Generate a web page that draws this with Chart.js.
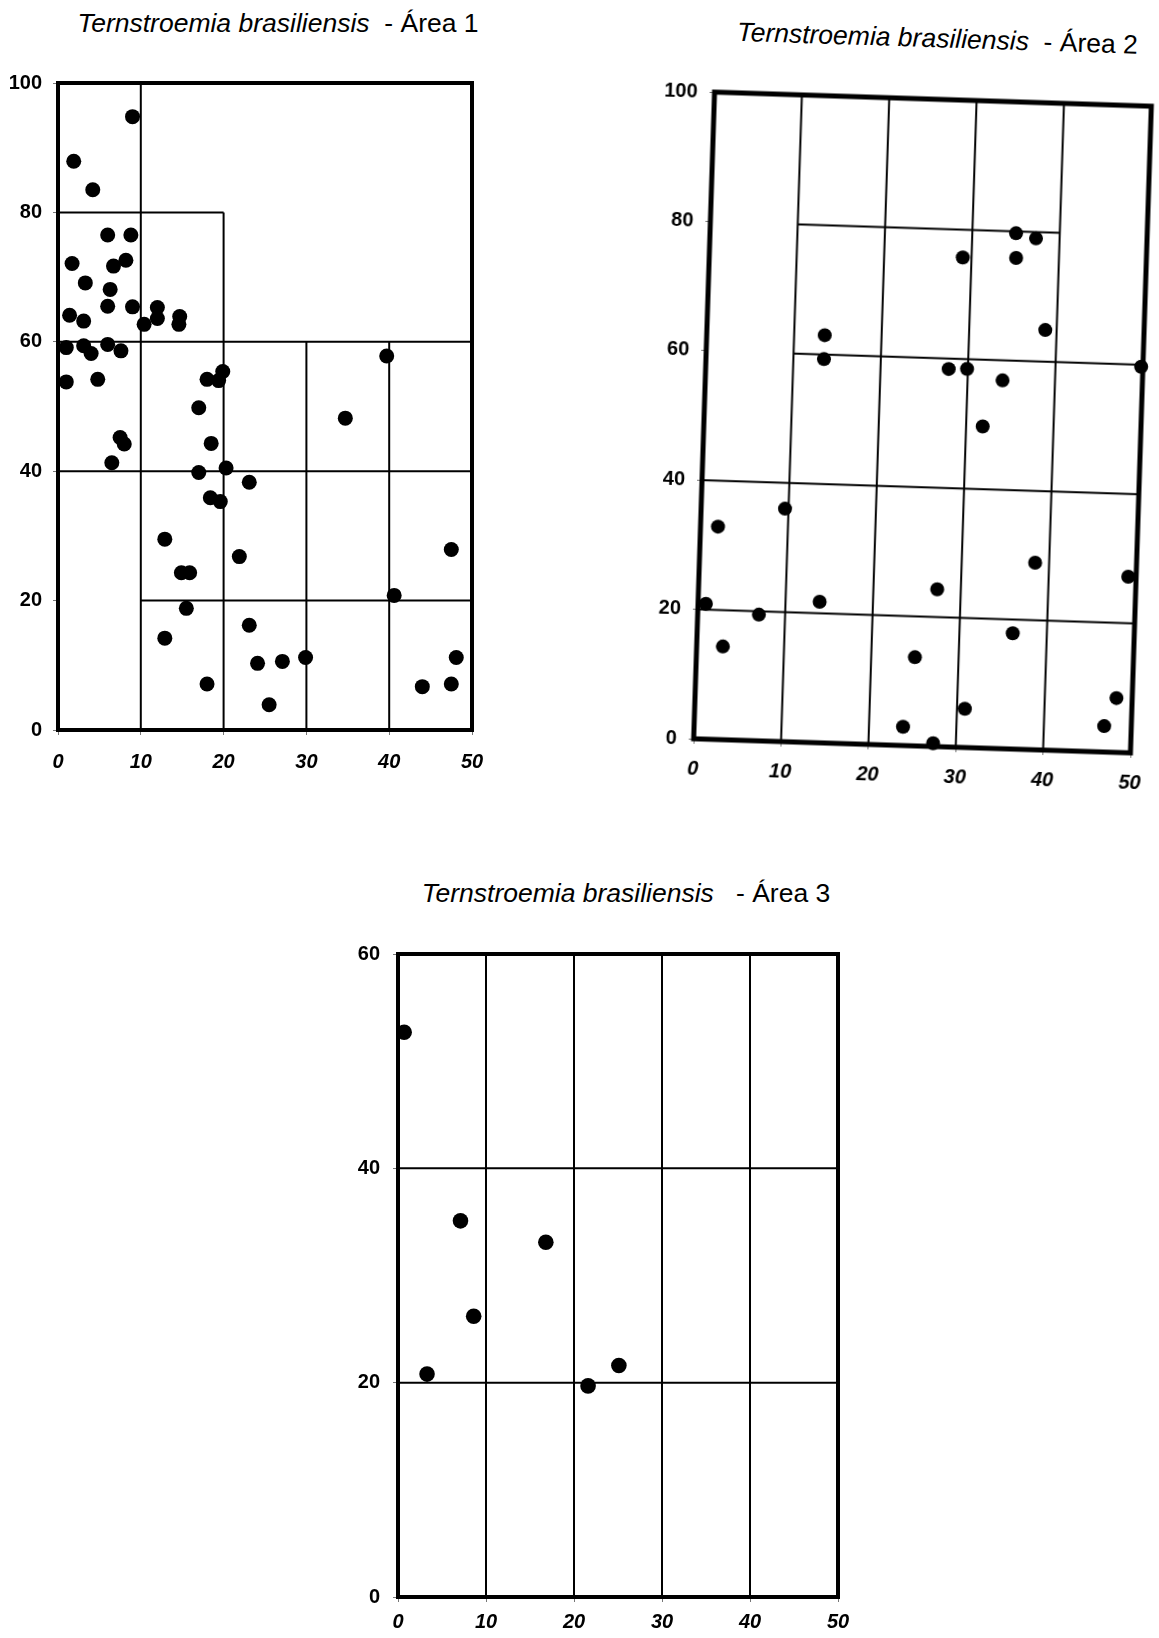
<!DOCTYPE html>
<html>
<head>
<meta charset="utf-8">
<script src="https://cdn.jsdelivr.net/npm/chart.js@4.4.0/dist/chart.umd.min.js"></script>
<style>
  body { margin: 0; background: #fff; }
  #page { position: relative; width: 1159px; height: 1638px; overflow: hidden; background: #fff;
          font-family: "Liberation Sans", Arial, sans-serif; color: #000; }
  .title { position: absolute; width: 500px; text-align: center; font-size: 26.5px; line-height: 30px; white-space: pre; }
  canvas { position: absolute; }
  #box2 { position: absolute; left: 640px; top: 0; width: 540px; height: 800px;
          transform-origin: 282.5px 422.5px; transform: rotate(1.85deg); }
</style>
</head>
<body>
<div id="page">
  <div class="title" style="left:28px;top:8px"><i>Ternstroemia brasiliensis</i>  - Área 1</div>
  <canvas id="c1" width="502" height="722" style="left:0;top:55px"></canvas>

  <div id="box2">
    <div class="title" style="left:35px;top:23px"><i>Ternstroemia brasiliensis</i>  - Área 2</div>
    <canvas id="c2" width="529" height="731" style="left:0;top:60px"></canvas>
  </div>

  <div class="title" style="left:376px;top:878px"><i>Ternstroemia brasiliensis</i>   - Área 3</div>
  <canvas id="c3" width="530" height="717" style="left:330px;top:920px"></canvas>
</div>

<script>
// tick labels
var xTicks = [0, 10, 20, 30, 40, 50];
var yTicks12 = [0, 20, 40, 60, 80, 100];
var yTicks3 = [0, 20, 40, 60];

// Área 1 - tree positions (m)
var area1X = [9.0, 1.9, 4.2, 6.0, 8.8, 1.7, 6.7, 8.2, 3.3, 6.3, 6.0, 9.0, 1.4, 3.1, 10.4, 12.0, 12.0, 14.7, 14.6,
              1.0, 3.1, 4.0, 6.0, 7.6, 1.0, 4.8, 18.0, 19.4, 19.9, 39.7, 17.0, 34.7, 7.5, 8.0, 18.5, 6.5, 17.0,
              20.3, 23.1, 18.4, 19.6, 12.9, 21.9, 47.5, 14.9, 15.9, 40.6, 15.5, 23.1, 12.9, 24.1, 27.1, 29.9,
              48.1, 18.0, 44.0, 47.5, 25.5];
var area1Y = [94.8, 87.9, 83.5, 76.5, 76.5, 72.1, 71.7, 72.6, 69.1, 68.1, 65.5, 65.4, 64.1, 63.2, 62.7, 65.3, 63.6, 63.9, 62.7,
              59.1, 59.4, 58.2, 59.6, 58.6, 53.8, 54.2, 54.2, 54.0, 55.4, 57.8, 49.8, 48.2, 45.2, 44.2, 44.3, 41.3, 39.8,
              40.5, 38.3, 35.9, 35.3, 29.5, 26.8, 27.9, 24.3, 24.3, 20.8, 18.8, 16.2, 14.2, 10.3, 10.6, 11.2,
              11.2, 7.1, 6.7, 7.1, 3.9];

// Área 2
var area2X = [35.0, 37.3, 29.0, 35.1, 38.7, 13.5, 13.5, 27.8, 29.9, 34.0, 49.8, 31.9, 9.6, 2.0, 38.4, 49.1, 27.3, 0.9,
              13.9, 7.0, 36.1, 3.0, 25.0, 48.2, 30.9, 23.9, 46.9, 27.4];
var area2Y = [79.7, 79.0, 75.7, 75.9, 64.9, 63.0, 59.3, 58.4, 58.5, 56.9, 59.7, 49.7, 36.0, 32.9, 28.9, 27.2, 24.3, 20.9,
              21.8, 19.5, 17.9, 14.4, 13.7, 8.4, 6.0, 2.9, 4.0, 0.5];

// Área 3
var area3X = [0.7, 7.1, 16.8, 8.6, 3.3, 21.6, 25.1];
var area3Y = [52.7, 35.1, 33.1, 26.2, 20.8, 19.7, 21.6];

// plot subdivisions: x1, y1, x2, y2
var lines1 = [[10, 0, 10, 100], [0, 80, 20, 80], [20, 0, 20, 80], [0, 60, 50, 60],
              [30, 0, 30, 60], [40, 0, 40, 60], [0, 40, 50, 40], [10, 20, 50, 20]];
var lines2 = [[10, 0, 10, 100], [20, 0, 20, 100], [30, 0, 30, 100], [40, 0, 40, 100],
              [10, 80, 40, 80], [10, 60, 50, 60], [0, 40, 50, 40], [0, 20, 50, 20]];
var lines3 = [[10, 0, 10, 60], [20, 0, 20, 60], [30, 0, 30, 60], [40, 0, 40, 60],
              [0, 20, 50, 20], [0, 40, 50, 40]];

function plotChart(id, xs, ys, lines, yTicks, box) {
  var xMax = xTicks[xTicks.length - 1];
  var yMax = yTicks[yTicks.length - 1];
  var datasets = [{
    data: xs.map(function (x, i) { return { x: x, y: ys[i] }; }),
    pointRadius: box.r,
    pointBackgroundColor: '#000',
    pointBorderWidth: 0,
    showLine: false,
    clip: false
  }];
  lines.forEach(function (s) {
    datasets.push({
      data: [{ x: s[0], y: s[1] }, { x: s[2], y: s[3] }],
      showLine: true,
      borderColor: '#000',
      borderWidth: 2,
      borderCapStyle: 'butt',
      pointRadius: 0,
      clip: false
    });
  });
  // outer frame
  datasets.push({
    data: [{ x: 0, y: 0 }, { x: 0, y: yMax }, { x: xMax, y: yMax }, { x: xMax, y: 0 }, { x: 0, y: 0 }],
    showLine: true,
    borderColor: '#000',
    borderWidth: box.frame,
    borderJoinStyle: 'miter',
    borderCapStyle: 'square',
    pointRadius: 0,
    clip: false
  });

  var tickGrid = { drawOnChartArea: false, drawTicks: true, tickLength: 5, color: '#777', lineWidth: 1 };

  return new Chart(document.getElementById(id), {
    type: 'scatter',
    data: { datasets: datasets },
    options: {
      responsive: false,
      animation: false,
      events: [],
      layout: { padding: { top: box.top, right: box.right, left: 0, bottom: 0 } },
      plugins: { legend: { display: false }, tooltip: { enabled: false } },
      scales: {
        x: {
          type: 'linear', min: 0, max: xMax,
          afterBuildTicks: function (s) { s.ticks = xTicks.map(function (v) { return { value: v }; }); },
          afterFit: function (s) { s.height = box.xh; },
          grid: tickGrid,
          border: { display: false },
          ticks: { color: '#000', padding: box.xPad, maxRotation: 0, autoSkip: false,
                   font: { family: 'Liberation Sans', size: 20, style: 'italic', weight: 'bold' } }
        },
        y: {
          type: 'linear', min: 0, max: yMax,
          afterBuildTicks: function (s) { s.ticks = yTicks.map(function (v) { return { value: v }; }); },
          afterFit: function (s) { s.width = box.yw; },
          grid: tickGrid,
          border: { display: false },
          ticks: { color: '#000', padding: box.yPad, autoSkip: false,
                   font: { family: 'Liberation Sans', size: 20, weight: 'bold' } }
        }
      }
    }
  });
}

plotChart('c1', area1X, area1Y, lines1, yTicks12,
  { r: 7.5, frame: 4, top: 28, right: 30, yw: 58, xh: 47, xPad: 15, yPad: 11 });
plotChart('c2', area2X, area2Y, lines2, yTicks12,
  { r: 7, frame: 5, top: 39, right: 28, yw: 64, xh: 45, xPad: 13, yPad: 12 });
plotChart('c3', area3X, area3Y, lines3, yTicks3,
  { r: 7.8, frame: 4, top: 34, right: 22, yw: 68, xh: 40, xPad: 8, yPad: 13 });
</script>
</body>
</html>
